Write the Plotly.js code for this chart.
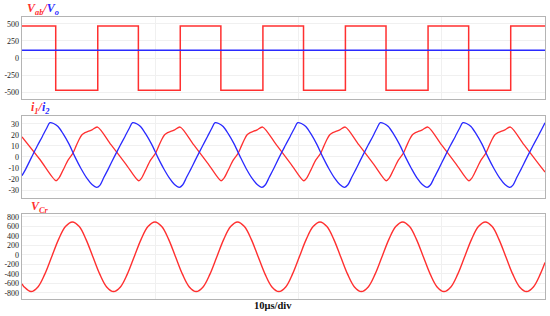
<!DOCTYPE html>
<html>
<head>
<meta charset="utf-8">
<script src="https://cdn.plot.ly/plotly-3.0.1.min.js"></script>
<style>html,body{margin:0;padding:0;background:#fff;}#chart{width:550px;height:316px;}</style>
</head>
<body>
<div id="chart"></div>
<script>
// time in microseconds
var vabT = [0, 2.35, 2.35, 5.28, 5.28, 8.11, 8.11, 11.03, 11.03, 13.86, 13.86, 16.79, 16.79, 19.62, 19.62, 22.54, 22.54, 25.37, 25.37, 28.30, 28.30, 31.13, 31.13, 34.06, 34.06, 36.45];
var vabV = [470, 470, -470, -470, 470, 470, -470, -470, 470, 470, -470, -470, 470, 470, -470, -470, 470, 470, -470, -470, 470, 470, -470, -470, 470, 470];
var voT = [0, 36.45];
var voV = [112, 112];

var i1T = [0, 1.25,
  2.37, 2.58, 2.86, 3.21, 3.53, 3.76, 3.97, 4.18, 4.39, 4.60, 4.88, 5.26, 6.20, 7.25,
  8.13, 8.34, 8.61, 8.96, 9.29, 9.52, 9.73, 9.94, 10.15, 10.36, 10.64, 11.02, 11.96, 13.00,
  13.88, 14.09, 14.37, 14.72, 15.05, 15.28, 15.49, 15.69, 15.90, 16.11, 16.39, 16.77, 17.72, 18.76,
  19.64, 19.85, 20.13, 20.47, 20.80, 21.03, 21.24, 21.45, 21.66, 21.87, 22.15, 22.53, 23.47, 24.52,
  25.39, 25.60, 25.88, 26.23, 26.56, 26.79, 27.00, 27.21, 27.42, 27.62, 27.90, 28.29, 29.23, 30.27,
  31.15, 31.36, 31.64, 31.99, 32.31, 32.54, 32.75, 32.96, 33.17, 33.38, 33.66, 34.04, 34.98, 36.03,
  36.45];
var i1V = [18.1, -2.4,
  -21.6, -19, -12, -3, 3, 9.5, 15.5, 20, 22, 23, 24.5, 27, 11, -6.7,
  -21.6, -19, -12, -3, 3, 9.5, 15.5, 20, 22, 23, 24.5, 27, 11, -6.7,
  -21.6, -19, -12, -3, 3, 9.5, 15.5, 20, 22, 23, 24.5, 27, 11, -6.7,
  -21.6, -19, -12, -3, 3, 9.5, 15.5, 20, 22, 23, 24.5, 27, 11, -6.7,
  -21.6, -19, -12, -3, 3, 9.5, 15.5, 20, 22, 23, 24.5, 27, 11, -6.7,
  -21.6, -19, -12, -3, 3, 9.5, 15.5, 20, 22, 23, 24.5, 27, 11, -6.7,
  -13.8];

var i2T = [0, 0.24, 0.68, 1.07, 1.42, 1.70,
  1.95, 2.23, 2.51, 2.86, 3.28, 3.69, 4.11, 4.53, 4.88, 5.21, 5.44, 5.71, 5.99, 6.43, 6.83, 7.18, 7.46,
  7.71, 7.99, 8.26, 8.61, 9.03, 9.45, 9.87, 10.29, 10.63, 10.96, 11.19, 11.47, 11.75, 12.19, 12.59, 12.93, 13.21,
  13.46, 13.74, 14.02, 14.37, 14.79, 15.21, 15.62, 16.04, 16.39, 16.72, 16.95, 17.23, 17.51, 17.94, 18.34, 18.69, 18.97,
  19.22, 19.50, 19.78, 20.13, 20.54, 20.96, 21.38, 21.80, 22.15, 22.47, 22.70, 22.98, 23.26, 23.70, 24.10, 24.45, 24.72,
  24.98, 25.25, 25.53, 25.88, 26.30, 26.72, 27.14, 27.55, 27.90, 28.23, 28.46, 28.74, 29.02, 29.46, 29.85, 30.20, 30.48,
  30.73, 31.01, 31.29, 31.64, 32.06, 32.47, 32.89, 33.31, 33.66, 33.99, 34.22, 34.49, 34.77, 35.21, 35.61, 35.96, 36.24,
  36.45];
var i2V = [-17, -11.5, 0, 10, 18.5, 25.5,
  31, 30, 27.5, 21, 11.5, 0, -10.5, -19.5, -25, -27.6, -25.5, -18.5, -11.5, 0, 10, 18.5, 25.5,
  31, 30, 27.5, 21, 11.5, 0, -10.5, -19.5, -25, -27.6, -25.5, -18.5, -11.5, 0, 10, 18.5, 25.5,
  31, 30, 27.5, 21, 11.5, 0, -10.5, -19.5, -25, -27.6, -25.5, -18.5, -11.5, 0, 10, 18.5, 25.5,
  31, 30, 27.5, 21, 11.5, 0, -10.5, -19.5, -25, -27.6, -25.5, -18.5, -11.5, 0, 10, 18.5, 25.5,
  31, 30, 27.5, 21, 11.5, 0, -10.5, -19.5, -25, -27.6, -25.5, -18.5, -11.5, 0, 10, 18.5, 25.5,
  31, 30, 27.5, 21, 11.5, 0, -10.5, -19.5, -25, -27.6, -25.5, -18.5, -11.5, 0, 10, 18.5, 25.5,
  30.8];

var vcrT = [0, 0.15,
  0.63, 1.11, 1.59, 2.07, 2.55, 3.03, 3.51, 3.99, 4.46, 4.94, 5.42, 5.90,
  6.38, 6.86, 7.34, 7.82, 8.30, 8.78, 9.26, 9.74, 10.22, 10.70, 11.18, 11.66,
  12.14, 12.62, 13.10, 13.58, 14.06, 14.54, 15.02, 15.50, 15.98, 16.46, 16.94, 17.42,
  17.90, 18.38, 18.85, 19.33, 19.81, 20.29, 20.77, 21.25, 21.73, 22.21, 22.69, 23.17,
  23.65, 24.13, 24.61, 25.09, 25.57, 26.05, 26.53, 27.01, 27.49, 27.97, 28.45, 28.93,
  29.41, 29.89, 30.37, 30.85, 31.33, 31.81, 32.29, 32.77, 33.24, 33.72, 34.20, 34.68,
  35.16, 35.64, 36.12,
  36.45];
var vcrV = [-609, -675,
  -773, -675, -406, -39, 328, 597, 695, 597, 328, -39, -406, -675,
  -773, -675, -406, -39, 328, 597, 695, 597, 328, -39, -406, -675,
  -773, -675, -406, -39, 328, 597, 695, 597, 328, -39, -406, -675,
  -773, -675, -406, -39, 328, 597, 695, 597, 328, -39, -406, -675,
  -773, -675, -406, -39, 328, 597, 695, 597, 328, -39, -406, -675,
  -773, -675, -406, -39, 328, 597, 695, 597, 328, -39, -406, -675,
  -773, -675, -406,
  -160];

var ticks1 = [-500, -250, 0, 250, 500];
var ticks1Text = ['-500', '-250', '0', '250', '500'];
var ticks2 = [-30, -20, -10, 0, 10, 20, 30];
var ticks2Text = ['-30', '-20', '-10', '0', '10', '20', '30'];
var ticks3 = [-800, -600, -400, -200, 0, 200, 400, 600, 800];
var ticks3Text = ['-800', '-600', '-400', '-200', '0', '200', '400', '600', '800'];

var RED = '#ff3030', BLUE = '#2a2aff';
var serif = '"Liberation Serif", "Times New Roman", Times, serif';

var traces = [
  {x: vabT, y: vabV, xaxis: 'x', yaxis: 'y', mode: 'lines', line: {color: RED, width: 1.5}},
  {x: voT, y: voV, xaxis: 'x', yaxis: 'y', mode: 'lines', line: {color: BLUE, width: 1.5}},
  {x: i1T, y: i1V, xaxis: 'x2', yaxis: 'y2', mode: 'lines', line: {color: RED, width: 1.3, shape: 'spline', smoothing: 0.8}},
  {x: i2T, y: i2V, xaxis: 'x2', yaxis: 'y2', mode: 'lines', line: {color: BLUE, width: 1.3, shape: 'spline', smoothing: 0.9}},
  {x: vcrT, y: vcrV, xaxis: 'x3', yaxis: 'y3', mode: 'lines', line: {color: RED, width: 1.4, shape: 'spline', smoothing: 1}}
];

function xax(anchor) {
  return {anchor: anchor, domain: [0, 1], range: [0, 36.45], showticklabels: false, ticks: '',
    showgrid: true, gridcolor: '#f0f0f0', gridwidth: 1, tick0: 9.27, dtick: 10,
    showline: true, mirror: true, linecolor: '#b4b4b4', linewidth: 1.3, zeroline: false, fixedrange: true};
}
function yax(anchor, dom, rng, tv, tt) {
  return {anchor: anchor, domain: dom, range: rng, tickmode: 'array', tickvals: tv, ticktext: tt,
    ticks: '', showgrid: true, gridcolor: '#f0f0f0', gridwidth: 1, zeroline: false,
    showline: true, mirror: true, linecolor: '#b4b4b4', linewidth: 1.3,
    tickfont: {family: serif, size: 8, color: '#222'}, fixedrange: true};
}

var layout = {
  width: 550, height: 316,
  margin: {l: 22, r: 5, t: 17, b: 17},
  paper_bgcolor: '#ffffff', plot_bgcolor: '#ffffff',
  showlegend: false,
  font: {family: serif, size: 8, color: '#222'},
  xaxis: xax('y'), xaxis2: xax('y2'), xaxis3: xax('y3'),
  yaxis: yax('x', [0.709, 1], [-600, 600], ticks1, ticks1Text),
  yaxis2: yax('x2', [0.359, 0.649], [-37, 37], ticks2, ticks2Text),
  yaxis3: yax('x3', [0, 0.301], [-930, 860], ticks3, ticks3Text),
  annotations: [
    {xref: 'paper', yref: 'paper', x: 0.0057, y: 1.027, xanchor: 'left', yanchor: 'middle', showarrow: false,
     font: {family: serif, size: 12},
     text: '<span style="color:' + RED + '"><b><i>V<sub>ab</sub>/</i></b></span><span style="color:' + BLUE + '"><b><i>V<sub>o</sub></i></b></span>'},
    {xref: 'paper', yref: 'paper', x: 0.0134, y: 0.677, xanchor: 'left', yanchor: 'middle', showarrow: false,
     font: {family: serif, size: 12},
     text: '<span style="color:' + RED + '"><b><i>i<sub>1</sub>/</i></b></span><span style="color:' + BLUE + '"><b><i>i<sub>2</sub></i></b></span>'},
    {xref: 'paper', yref: 'paper', x: 0.0134, y: 0.326, xanchor: 'left', yanchor: 'middle', showarrow: false,
     font: {family: serif, size: 12},
     text: '<span style="color:' + RED + '"><b><i>V<sub>Cr</sub></i></b></span>'},
    {xref: 'paper', yref: 'paper', x: 0.479, y: -0.022, xanchor: 'center', yanchor: 'middle', showarrow: false,
     font: {family: serif, size: 10.5, color: '#111'},
     text: '<b>10μs/div</b>'}
  ]
};

Plotly.newPlot('chart', traces, layout, {staticPlot: true, displayModeBar: false});
</script>
</body>
</html>
